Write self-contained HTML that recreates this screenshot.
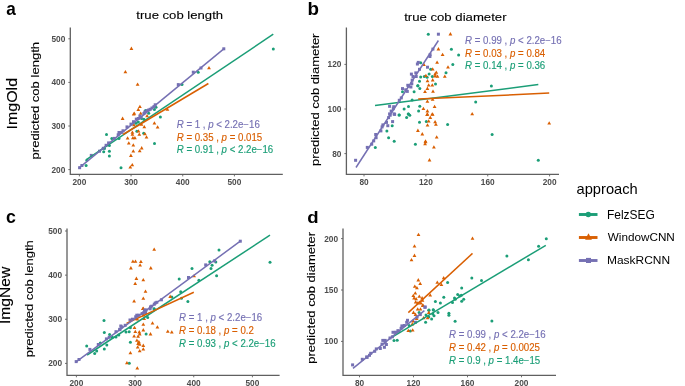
<!DOCTYPE html>
<html><head><meta charset="utf-8"><style>
html,body{margin:0;padding:0;background:#fff;width:685px;height:386px;overflow:hidden;}
svg{display:block;font-family:"Liberation Sans",sans-serif;will-change:transform;}
</style></head><body>
<svg width="685" height="386" viewBox="0 0 685 386">
<path d="M70.30 27.60V174.40H282.80" fill="none" stroke="#606060" stroke-width="1.3"/>
<path d="M68.30 169.60H70.30" stroke="#606060" stroke-width="0.9"/>
<text x="65.35" y="172.55" font-size="8.3" font-weight="bold" fill="#4D4D4D" text-anchor="end">200</text>
<path d="M68.30 126.00H70.30" stroke="#606060" stroke-width="0.9"/>
<text x="65.35" y="128.95" font-size="8.3" font-weight="bold" fill="#4D4D4D" text-anchor="end">300</text>
<path d="M68.30 82.40H70.30" stroke="#606060" stroke-width="0.9"/>
<text x="65.35" y="85.35" font-size="8.3" font-weight="bold" fill="#4D4D4D" text-anchor="end">400</text>
<path d="M68.30 38.80H70.30" stroke="#606060" stroke-width="0.9"/>
<text x="65.35" y="41.75" font-size="8.3" font-weight="bold" fill="#4D4D4D" text-anchor="end">500</text>
<path d="M79.40 174.40V176.40" stroke="#606060" stroke-width="0.9"/>
<text x="79.40" y="185.11" font-size="8.3" font-weight="bold" fill="#4D4D4D" text-anchor="middle">200</text>
<path d="M131.07 174.40V176.40" stroke="#606060" stroke-width="0.9"/>
<text x="131.07" y="185.11" font-size="8.3" font-weight="bold" fill="#4D4D4D" text-anchor="middle">300</text>
<path d="M182.74 174.40V176.40" stroke="#606060" stroke-width="0.9"/>
<text x="182.74" y="185.11" font-size="8.3" font-weight="bold" fill="#4D4D4D" text-anchor="middle">400</text>
<path d="M234.41 174.40V176.40" stroke="#606060" stroke-width="0.9"/>
<text x="234.41" y="185.11" font-size="8.3" font-weight="bold" fill="#4D4D4D" text-anchor="middle">500</text>
<path d="M346.40 27.60V174.40H559.00" fill="none" stroke="#606060" stroke-width="1.3"/>
<path d="M344.40 153.60H346.40" stroke="#606060" stroke-width="0.9"/>
<text x="341.45" y="156.55" font-size="8.3" font-weight="bold" fill="#4D4D4D" text-anchor="end">80</text>
<path d="M344.40 109.00H346.40" stroke="#606060" stroke-width="0.9"/>
<text x="341.45" y="111.95" font-size="8.3" font-weight="bold" fill="#4D4D4D" text-anchor="end">100</text>
<path d="M344.40 64.40H346.40" stroke="#606060" stroke-width="0.9"/>
<text x="341.45" y="67.35" font-size="8.3" font-weight="bold" fill="#4D4D4D" text-anchor="end">120</text>
<path d="M364.00 174.40V176.40" stroke="#606060" stroke-width="0.9"/>
<text x="364.00" y="185.11" font-size="8.3" font-weight="bold" fill="#4D4D4D" text-anchor="middle">80</text>
<path d="M425.87 174.40V176.40" stroke="#606060" stroke-width="0.9"/>
<text x="425.87" y="185.11" font-size="8.3" font-weight="bold" fill="#4D4D4D" text-anchor="middle">120</text>
<path d="M487.74 174.40V176.40" stroke="#606060" stroke-width="0.9"/>
<text x="487.74" y="185.11" font-size="8.3" font-weight="bold" fill="#4D4D4D" text-anchor="middle">160</text>
<path d="M549.60 174.40V176.40" stroke="#606060" stroke-width="0.9"/>
<text x="549.60" y="185.11" font-size="8.3" font-weight="bold" fill="#4D4D4D" text-anchor="middle">200</text>
<path d="M67.00 228.60V375.30H279.60" fill="none" stroke="#606060" stroke-width="1.3"/>
<path d="M65.00 363.40H67.00" stroke="#606060" stroke-width="0.9"/>
<text x="62.05" y="366.35" font-size="8.3" font-weight="bold" fill="#4D4D4D" text-anchor="end">200</text>
<path d="M65.00 319.27H67.00" stroke="#606060" stroke-width="0.9"/>
<text x="62.05" y="322.22" font-size="8.3" font-weight="bold" fill="#4D4D4D" text-anchor="end">300</text>
<path d="M65.00 275.14H67.00" stroke="#606060" stroke-width="0.9"/>
<text x="62.05" y="278.09" font-size="8.3" font-weight="bold" fill="#4D4D4D" text-anchor="end">400</text>
<path d="M65.00 231.01H67.00" stroke="#606060" stroke-width="0.9"/>
<text x="62.05" y="233.96" font-size="8.3" font-weight="bold" fill="#4D4D4D" text-anchor="end">500</text>
<path d="M76.40 375.30V377.30" stroke="#606060" stroke-width="0.9"/>
<text x="76.40" y="386.01" font-size="8.3" font-weight="bold" fill="#4D4D4D" text-anchor="middle">200</text>
<path d="M135.07 375.30V377.30" stroke="#606060" stroke-width="0.9"/>
<text x="135.07" y="386.01" font-size="8.3" font-weight="bold" fill="#4D4D4D" text-anchor="middle">300</text>
<path d="M193.74 375.30V377.30" stroke="#606060" stroke-width="0.9"/>
<text x="193.74" y="386.01" font-size="8.3" font-weight="bold" fill="#4D4D4D" text-anchor="middle">400</text>
<path d="M252.41 375.30V377.30" stroke="#606060" stroke-width="0.9"/>
<text x="252.41" y="386.01" font-size="8.3" font-weight="bold" fill="#4D4D4D" text-anchor="middle">500</text>
<path d="M343.00 228.60V375.30H556.00" fill="none" stroke="#606060" stroke-width="1.3"/>
<path d="M341.00 341.40H343.00" stroke="#606060" stroke-width="0.9"/>
<text x="338.05" y="344.35" font-size="8.3" font-weight="bold" fill="#4D4D4D" text-anchor="end">100</text>
<path d="M341.00 290.00H343.00" stroke="#606060" stroke-width="0.9"/>
<text x="338.05" y="292.95" font-size="8.3" font-weight="bold" fill="#4D4D4D" text-anchor="end">150</text>
<path d="M341.00 238.60H343.00" stroke="#606060" stroke-width="0.9"/>
<text x="338.05" y="241.55" font-size="8.3" font-weight="bold" fill="#4D4D4D" text-anchor="end">200</text>
<path d="M359.50 375.30V377.30" stroke="#606060" stroke-width="0.9"/>
<text x="359.50" y="386.01" font-size="8.3" font-weight="bold" fill="#4D4D4D" text-anchor="middle">80</text>
<path d="M413.50 375.30V377.30" stroke="#606060" stroke-width="0.9"/>
<text x="413.50" y="386.01" font-size="8.3" font-weight="bold" fill="#4D4D4D" text-anchor="middle">120</text>
<path d="M467.50 375.30V377.30" stroke="#606060" stroke-width="0.9"/>
<text x="467.50" y="386.01" font-size="8.3" font-weight="bold" fill="#4D4D4D" text-anchor="middle">160</text>
<path d="M521.50 375.30V377.30" stroke="#606060" stroke-width="0.9"/>
<text x="521.50" y="386.01" font-size="8.3" font-weight="bold" fill="#4D4D4D" text-anchor="middle">200</text>
<text font-size="1" font-weight="bold" fill="#000" transform="matrix(17.1698 0 0 19.2727 6.285 14.807)">a</text>
<text font-size="1" font-weight="bold" fill="#000" transform="matrix(18.8000 0 0 17.6712 307.384 14.800)">b</text>
<text font-size="1" font-weight="bold" fill="#000" transform="matrix(17.7551 0 0 18.9091 6.090 223.311)">c</text>
<text font-size="1" font-weight="bold" fill="#000" transform="matrix(18.6000 0 0 17.2603 307.356 223.100)">d</text>
<text font-size="1" font-weight="normal" fill="#000" stroke="#000" stroke-width="0.01" transform="matrix(13.1240 0 0 11.8085 136.338 18.720)">true cob length</text>
<text font-size="1" font-weight="normal" fill="#000" stroke="#000" stroke-width="0.01" transform="matrix(13.1783 0 0 11.6216 404.136 20.584)">true cob diameter</text>
<text font-size="1" font-weight="normal" fill="#000" stroke="#000" stroke-width="0.01" transform="matrix(0 -13.0552 11.4894 0 38.787 159.414)">predicted cob length</text>
<text font-size="1" font-weight="normal" fill="#000" stroke="#000" stroke-width="0.01" transform="matrix(0 -12.9876 11.8085 0 33.420 357.209)">predicted cob length</text>
<text font-size="1" font-weight="normal" fill="#000" stroke="#000" stroke-width="0.01" transform="matrix(0 -13.0327 11.4894 0 318.587 165.912)">predicted cob diameter</text>
<text font-size="1" font-weight="normal" fill="#000" stroke="#000" stroke-width="0.01" transform="matrix(0 -12.9633 11.5957 0 315.265 363.707)">predicted cob diameter</text>
<text font-size="1" font-weight="normal" fill="#000" stroke="#000" stroke-width="0.01" transform="matrix(0 -16.0261 13.8298 0 16.996 129.542)">ImgOld</text>
<text font-size="1" font-weight="normal" fill="#000" stroke="#000" stroke-width="0.01" transform="matrix(0 -15.6145 13.8333 0 10.395 324.105)">ImgNew</text>
<g fill="#1B9E77"><circle cx="86.1" cy="165.5" r="1.5"/><circle cx="86.9" cy="160.3" r="1.5"/><circle cx="103.7" cy="151.7" r="1.5"/><circle cx="104.5" cy="148.6" r="1.5"/><circle cx="109.4" cy="151.2" r="1.5"/><circle cx="109.4" cy="155.9" r="1.5"/><circle cx="109.4" cy="145.4" r="1.5"/><circle cx="106.5" cy="134.4" r="1.5"/><circle cx="111.8" cy="138.4" r="1.5"/><circle cx="119.0" cy="138.4" r="1.5"/><circle cx="121.0" cy="167.7" r="1.5"/><circle cx="136.9" cy="131.2" r="1.5"/><circle cx="143.7" cy="133.2" r="1.5"/><circle cx="154.5" cy="143.4" r="1.5"/><circle cx="135.9" cy="123.3" r="1.5"/><circle cx="138.3" cy="122.1" r="1.5"/><circle cx="141.5" cy="118.5" r="1.5"/><circle cx="143.9" cy="119.3" r="1.5"/><circle cx="145.5" cy="110.4" r="1.5"/><circle cx="148.7" cy="113.2" r="1.5"/><circle cx="154.4" cy="109.6" r="1.5"/><circle cx="156.0" cy="107.2" r="1.5"/><circle cx="160.4" cy="116.9" r="1.5"/><circle cx="198.2" cy="72.2" r="1.5"/><circle cx="182.0" cy="84.6" r="1.5"/><circle cx="273.3" cy="49.0" r="1.5"/></g>
<g fill="#D95F02"><path d="M131.40 46.62L133.30 49.92H129.50Z"/><path d="M125.40 70.02L127.30 73.32H123.50Z"/><path d="M137.60 82.42L139.50 85.72H135.70Z"/><path d="M139.90 104.82L141.80 108.12H138.00Z"/><path d="M138.30 107.62L140.20 110.92H136.40Z"/><path d="M133.70 112.22L135.60 115.52H131.80Z"/><path d="M134.30 111.42L136.20 114.72H132.40Z"/><path d="M140.70 111.52L142.60 114.82H138.80Z"/><path d="M122.60 116.62L124.50 119.92H120.70Z"/><path d="M147.10 114.02L149.00 117.32H145.20Z"/><path d="M167.40 107.52L169.30 110.82H165.50Z"/><path d="M154.40 121.32L156.30 124.62H152.50Z"/><path d="M157.60 125.32L159.50 128.62H155.70Z"/><path d="M144.30 124.92L146.20 128.22H142.40Z"/><path d="M141.50 122.52L143.40 125.82H139.60Z"/><path d="M133.90 122.92L135.80 126.22H132.00Z"/><path d="M132.40 130.42L134.30 133.72H130.50Z"/><path d="M132.40 132.42L134.30 135.72H130.50Z"/><path d="M138.50 129.22L140.40 132.52H136.60Z"/><path d="M139.30 132.42L141.20 135.72H137.40Z"/><path d="M144.90 132.02L146.80 135.32H143.00Z"/><path d="M146.50 135.22L148.40 138.52H144.60Z"/><path d="M127.60 136.32L129.50 139.62H125.70Z"/><path d="M132.90 136.02L134.80 139.32H131.00Z"/><path d="M134.90 136.02L136.80 139.32H133.00Z"/><path d="M128.80 141.32L130.70 144.62H126.90Z"/><path d="M133.30 143.32L135.20 146.62H131.40Z"/><path d="M141.70 146.12L143.60 149.42H139.80Z"/><path d="M139.70 148.92L141.60 152.22H137.80Z"/><path d="M133.30 149.32L135.20 152.62H131.40Z"/><path d="M130.90 153.62L132.80 156.92H129.00Z"/><path d="M132.30 162.92L134.20 166.22H130.40Z"/><path d="M130.30 165.32L132.20 168.62H128.40Z"/><path d="M209.00 66.02L210.90 69.32H207.10Z"/></g>
<g fill="#7570B3"><rect x="78.10" y="166.20" width="3.0" height="3.0"/><rect x="80.40" y="164.00" width="3.0" height="3.0"/><rect x="89.80" y="153.90" width="3.0" height="3.0"/><rect x="98.00" y="149.70" width="3.0" height="3.0"/><rect x="101.80" y="146.80" width="3.0" height="3.0"/><rect x="104.60" y="143.80" width="3.0" height="3.0"/><rect x="107.10" y="141.40" width="3.0" height="3.0"/><rect x="112.70" y="136.90" width="3.0" height="3.0"/><rect x="116.70" y="133.30" width="3.0" height="3.0"/><rect x="119.90" y="130.90" width="3.0" height="3.0"/><rect x="121.50" y="129.30" width="3.0" height="3.0"/><rect x="117.50" y="131.00" width="3.0" height="3.0"/><rect x="125.50" y="125.40" width="3.0" height="3.0"/><rect x="129.50" y="122.60" width="3.0" height="3.0"/><rect x="132.00" y="120.20" width="3.0" height="3.0"/><rect x="136.80" y="117.00" width="3.0" height="3.0"/><rect x="138.40" y="114.50" width="3.0" height="3.0"/><rect x="142.40" y="112.10" width="3.0" height="3.0"/><rect x="147.20" y="108.50" width="3.0" height="3.0"/><rect x="148.70" y="107.80" width="3.0" height="3.0"/><rect x="150.50" y="106.50" width="3.0" height="3.0"/><rect x="153.70" y="103.30" width="3.0" height="3.0"/><rect x="134.80" y="117.60" width="3.0" height="3.0"/><rect x="139.50" y="115.70" width="3.0" height="3.0"/><rect x="143.30" y="110.50" width="3.0" height="3.0"/><rect x="145.70" y="109.10" width="3.0" height="3.0"/><rect x="152.50" y="105.10" width="3.0" height="3.0"/><rect x="176.80" y="83.10" width="3.0" height="3.0"/><rect x="191.80" y="70.70" width="3.0" height="3.0"/><rect x="199.50" y="66.50" width="3.0" height="3.0"/><rect x="222.30" y="47.30" width="3.0" height="3.0"/></g>
<path d="M86.00 159.90L273.30 34.20" stroke="#1B9E77" stroke-width="1.5" fill="none"/>
<path d="M123.00 134.50L208.40 83.50" stroke="#D95F02" stroke-width="1.5" fill="none"/>
<path d="M79.20 167.90L223.80 48.80" stroke="#7570B3" stroke-width="1.5" fill="none"/>
<g fill="#1B9E77"><circle cx="428.3" cy="34.2" r="1.5"/><circle cx="451.4" cy="49.3" r="1.5"/><circle cx="458.6" cy="55.0" r="1.5"/><circle cx="420.7" cy="62.8" r="1.5"/><circle cx="430.7" cy="69.3" r="1.5"/><circle cx="429.1" cy="74.1" r="1.5"/><circle cx="420.7" cy="76.9" r="1.5"/><circle cx="424.3" cy="76.5" r="1.5"/><circle cx="427.1" cy="77.3" r="1.5"/><circle cx="432.3" cy="76.5" r="1.5"/><circle cx="419.5" cy="81.3" r="1.5"/><circle cx="435.5" cy="84.1" r="1.5"/><circle cx="417.9" cy="85.7" r="1.5"/><circle cx="452.8" cy="64.4" r="1.5"/><circle cx="446.0" cy="72.7" r="1.5"/><circle cx="402.5" cy="91.8" r="1.5"/><circle cx="414.1" cy="91.8" r="1.5"/><circle cx="417.8" cy="85.8" r="1.5"/><circle cx="419.8" cy="88.6" r="1.5"/><circle cx="412.1" cy="99.9" r="1.5"/><circle cx="408.5" cy="106.5" r="1.5"/><circle cx="404.1" cy="109.1" r="1.5"/><circle cx="419.8" cy="106.3" r="1.5"/><circle cx="418.6" cy="111.1" r="1.5"/><circle cx="399.3" cy="114.9" r="1.5"/><circle cx="408.5" cy="113.9" r="1.5"/><circle cx="399.0" cy="115.1" r="1.5"/><circle cx="392.2" cy="125.8" r="1.5"/><circle cx="386.9" cy="130.9" r="1.5"/><circle cx="388.6" cy="137.7" r="1.5"/><circle cx="394.2" cy="141.3" r="1.5"/><circle cx="408.2" cy="114.0" r="1.5"/><circle cx="409.8" cy="115.2" r="1.5"/><circle cx="406.6" cy="117.6" r="1.5"/><circle cx="419.5" cy="122.3" r="1.5"/><circle cx="426.3" cy="121.5" r="1.5"/><circle cx="447.6" cy="124.4" r="1.5"/><circle cx="375.3" cy="147.4" r="1.5"/><circle cx="415.4" cy="144.2" r="1.5"/><circle cx="491.4" cy="85.9" r="1.5"/><circle cx="475.7" cy="102.0" r="1.5"/><circle cx="492.1" cy="134.4" r="1.5"/><circle cx="538.3" cy="160.3" r="1.5"/></g>
<g fill="#D95F02"><path d="M450.40 32.12L452.30 35.42H448.50Z"/><path d="M438.40 47.12L440.30 50.42H436.50Z"/><path d="M442.60 52.72L444.50 56.02H440.70Z"/><path d="M437.10 60.42L439.00 63.72H435.20Z"/><path d="M423.90 62.82L425.80 66.12H422.00Z"/><path d="M432.70 67.32L434.60 70.62H430.80Z"/><path d="M448.00 65.22L449.90 68.52H446.10Z"/><path d="M436.30 70.52L438.20 73.82H434.40Z"/><path d="M435.10 72.12L437.00 75.42H433.20Z"/><path d="M425.90 73.72L427.80 77.02H424.00Z"/><path d="M437.50 74.52L439.40 77.82H435.60Z"/><path d="M435.10 74.12L437.00 77.42H433.20Z"/><path d="M444.80 74.52L446.70 77.82H442.90Z"/><path d="M427.50 78.92L429.40 82.22H425.60Z"/><path d="M432.70 78.12L434.60 81.42H430.80Z"/><path d="M428.70 83.32L430.60 86.62H426.80Z"/><path d="M432.30 83.32L434.20 86.62H430.40Z"/><path d="M427.40 86.62L429.30 89.92H425.50Z"/><path d="M425.00 89.82L426.90 93.12H423.10Z"/><path d="M433.00 89.42L434.90 92.72H431.10Z"/><path d="M427.40 99.52L429.30 102.82H425.50Z"/><path d="M432.60 97.52L434.50 100.82H430.70Z"/><path d="M423.40 106.72L425.30 110.02H421.50Z"/><path d="M427.40 109.12L429.30 112.42H425.50Z"/><path d="M427.40 112.32L429.30 115.62H425.50Z"/><path d="M432.20 112.32L434.10 115.62H430.30Z"/><path d="M434.60 104.72L436.50 108.02H432.70Z"/><path d="M427.10 112.82L429.00 116.12H425.20Z"/><path d="M432.70 112.42L434.60 115.72H430.80Z"/><path d="M430.30 115.62L432.20 118.92H428.40Z"/><path d="M428.70 119.22L430.60 122.52H426.80Z"/><path d="M435.10 120.02L437.00 123.32H433.20Z"/><path d="M435.90 122.42L437.80 125.72H434.00Z"/><path d="M427.50 123.32L429.40 126.62H425.60Z"/><path d="M417.90 128.62L419.80 131.92H416.00Z"/><path d="M422.30 132.12L424.20 135.42H420.40Z"/><path d="M436.70 135.32L438.60 138.62H434.80Z"/><path d="M425.50 139.32L427.40 142.62H423.60Z"/><path d="M425.50 140.02L427.40 143.32H423.60Z"/><path d="M425.10 142.02L427.00 145.32H423.20Z"/><path d="M433.90 145.22L435.80 148.52H432.00Z"/><path d="M429.50 158.12L431.40 161.42H427.60Z"/><path d="M472.20 111.92L474.10 115.22H470.30Z"/><path d="M549.20 121.22L551.10 124.52H547.30Z"/></g>
<g fill="#7570B3"><rect x="436.90" y="32.70" width="3.0" height="3.0"/><rect x="431.40" y="47.60" width="3.0" height="3.0"/><rect x="428.60" y="53.20" width="3.0" height="3.0"/><rect x="428.40" y="55.00" width="3.0" height="3.0"/><rect x="416.80" y="60.90" width="3.0" height="3.0"/><rect x="415.90" y="62.50" width="3.0" height="3.0"/><rect x="426.00" y="65.70" width="3.0" height="3.0"/><rect x="418.00" y="67.80" width="3.0" height="3.0"/><rect x="414.30" y="71.40" width="3.0" height="3.0"/><rect x="409.90" y="72.60" width="3.0" height="3.0"/><rect x="411.50" y="75.00" width="3.0" height="3.0"/><rect x="414.70" y="75.00" width="3.0" height="3.0"/><rect x="410.70" y="78.60" width="3.0" height="3.0"/><rect x="410.30" y="82.20" width="3.0" height="3.0"/><rect x="406.30" y="83.80" width="3.0" height="3.0"/><rect x="407.00" y="84.70" width="3.0" height="3.0"/><rect x="409.40" y="85.50" width="3.0" height="3.0"/><rect x="401.00" y="87.10" width="3.0" height="3.0"/><rect x="404.20" y="88.30" width="3.0" height="3.0"/><rect x="405.80" y="89.90" width="3.0" height="3.0"/><rect x="399.80" y="96.40" width="3.0" height="3.0"/><rect x="397.80" y="98.80" width="3.0" height="3.0"/><rect x="388.10" y="104.80" width="3.0" height="3.0"/><rect x="392.20" y="105.20" width="3.0" height="3.0"/><rect x="391.80" y="107.20" width="3.0" height="3.0"/><rect x="389.70" y="109.60" width="3.0" height="3.0"/><rect x="388.10" y="112.40" width="3.0" height="3.0"/><rect x="392.60" y="112.40" width="3.0" height="3.0"/><rect x="393.10" y="112.90" width="3.0" height="3.0"/><rect x="388.70" y="113.70" width="3.0" height="3.0"/><rect x="387.10" y="116.10" width="3.0" height="3.0"/><rect x="391.10" y="120.10" width="3.0" height="3.0"/><rect x="385.00" y="120.90" width="3.0" height="3.0"/><rect x="386.30" y="124.20" width="3.0" height="3.0"/><rect x="381.40" y="123.40" width="3.0" height="3.0"/><rect x="380.60" y="125.40" width="3.0" height="3.0"/><rect x="379.40" y="129.40" width="3.0" height="3.0"/><rect x="374.20" y="133.00" width="3.0" height="3.0"/><rect x="374.60" y="136.20" width="3.0" height="3.0"/><rect x="372.20" y="139.40" width="3.0" height="3.0"/><rect x="370.20" y="142.70" width="3.0" height="3.0"/><rect x="365.80" y="145.90" width="3.0" height="3.0"/><rect x="354.10" y="158.80" width="3.0" height="3.0"/></g>
<path d="M375.00 105.40L538.30 84.60" stroke="#1B9E77" stroke-width="1.5" fill="none"/>
<path d="M418.20 99.10L549.20 93.10" stroke="#D95F02" stroke-width="1.5" fill="none"/>
<path d="M356.00 167.50L438.40 40.50" stroke="#7570B3" stroke-width="1.5" fill="none"/>
<g fill="#1B9E77"><circle cx="171.8" cy="296.9" r="1.5"/><circle cx="154.1" cy="308.9" r="1.5"/><circle cx="147.7" cy="317.6" r="1.5"/><circle cx="130.4" cy="327.7" r="1.5"/><circle cx="126.0" cy="332.1" r="1.5"/><circle cx="129.2" cy="331.7" r="1.5"/><circle cx="146.1" cy="334.1" r="1.5"/><circle cx="118.8" cy="334.9" r="1.5"/><circle cx="154.1" cy="308.8" r="1.5"/><circle cx="104.0" cy="320.4" r="1.5"/><circle cx="104.3" cy="332.5" r="1.5"/><circle cx="109.6" cy="334.5" r="1.5"/><circle cx="86.7" cy="346.0" r="1.5"/><circle cx="106.8" cy="344.9" r="1.5"/><circle cx="104.3" cy="349.0" r="1.5"/><circle cx="100.3" cy="342.9" r="1.5"/><circle cx="112.4" cy="337.3" r="1.5"/><circle cx="116.0" cy="336.9" r="1.5"/><circle cx="96.7" cy="351.0" r="1.5"/><circle cx="94.7" cy="353.4" r="1.5"/><circle cx="130.4" cy="342.3" r="1.5"/><circle cx="129.3" cy="363.2" r="1.5"/><circle cx="219.0" cy="250.0" r="1.5"/><circle cx="209.8" cy="261.7" r="1.5"/><circle cx="215.8" cy="262.0" r="1.5"/><circle cx="212.1" cy="265.3" r="1.5"/><circle cx="211.0" cy="268.5" r="1.5"/><circle cx="192.0" cy="268.5" r="1.5"/><circle cx="179.2" cy="279.1" r="1.5"/><circle cx="198.9" cy="280.2" r="1.5"/><circle cx="216.6" cy="275.7" r="1.5"/><circle cx="270.0" cy="262.2" r="1.5"/><circle cx="180.7" cy="291.8" r="1.5"/><circle cx="181.5" cy="298.3" r="1.5"/><circle cx="187.9" cy="301.5" r="1.5"/></g>
<g fill="#D95F02"><path d="M154.20 247.42L156.10 250.72H152.30Z"/><path d="M132.90 259.42L134.80 262.72H131.00Z"/><path d="M135.50 259.42L137.40 262.72H133.60Z"/><path d="M140.90 259.72L142.80 263.02H139.00Z"/><path d="M140.10 263.32L142.00 266.62H138.20Z"/><path d="M130.90 266.12L132.80 269.42H129.00Z"/><path d="M150.80 266.12L152.70 269.42H148.90Z"/><path d="M136.40 276.62L138.30 279.92H134.50Z"/><path d="M143.30 277.92L145.20 281.22H141.40Z"/><path d="M135.20 281.82L137.10 285.12H133.30Z"/><path d="M145.50 289.52L147.40 292.82H143.60Z"/><path d="M143.30 296.52L145.20 299.82H141.40Z"/><path d="M134.10 299.32L136.00 302.62H132.20Z"/><path d="M143.30 306.52L145.20 309.82H141.40Z"/><path d="M170.20 294.62L172.10 297.92H168.30Z"/><path d="M142.90 306.82L144.80 310.12H141.00Z"/><path d="M143.70 313.22L145.60 316.52H141.80Z"/><path d="M137.30 317.22L139.20 320.52H135.40Z"/><path d="M144.10 316.82L146.00 320.12H142.20Z"/><path d="M143.30 322.52L145.20 325.82H141.40Z"/><path d="M152.50 321.32L154.40 324.62H150.60Z"/><path d="M157.40 325.32L159.30 328.62H155.50Z"/><path d="M134.50 325.72L136.40 329.02H132.60Z"/><path d="M143.30 328.12L145.20 331.42H141.40Z"/><path d="M135.30 329.72L137.20 333.02H133.40Z"/><path d="M139.30 330.12L141.20 333.42H137.40Z"/><path d="M139.70 332.12L141.60 335.42H137.80Z"/><path d="M150.50 332.12L152.40 335.42H148.60Z"/><path d="M134.10 334.22L136.00 337.52H132.20Z"/><path d="M138.10 334.52L140.00 337.82H136.20Z"/><path d="M167.80 329.42L169.70 332.72H165.90Z"/><path d="M171.80 330.22L173.70 333.52H169.90Z"/><path d="M136.90 338.42L138.80 341.72H135.00Z"/><path d="M138.90 340.02L140.80 343.32H137.00Z"/><path d="M138.10 341.62L140.00 344.92H136.20Z"/><path d="M139.70 342.42L141.60 345.72H137.80Z"/><path d="M143.30 343.62L145.20 346.92H141.40Z"/><path d="M137.70 345.22L139.60 348.52H135.80Z"/><path d="M143.30 347.32L145.20 350.62H141.40Z"/><path d="M139.70 348.92L141.60 352.22H137.80Z"/><path d="M130.40 350.92L132.30 354.22H128.50Z"/><path d="M126.90 361.02L128.80 364.32H125.00Z"/><path d="M137.30 366.32L139.20 369.62H135.40Z"/><path d="M194.10 273.92L196.00 277.22H192.20Z"/></g>
<g fill="#7570B3"><rect x="238.80" y="239.70" width="3.0" height="3.0"/><rect x="213.10" y="259.40" width="3.0" height="3.0"/><rect x="204.20" y="263.40" width="3.0" height="3.0"/><rect x="187.00" y="276.00" width="3.0" height="3.0"/><rect x="159.90" y="298.30" width="3.0" height="3.0"/><rect x="153.80" y="301.50" width="3.0" height="3.0"/><rect x="149.00" y="305.40" width="3.0" height="3.0"/><rect x="143.40" y="308.60" width="3.0" height="3.0"/><rect x="118.10" y="328.20" width="3.0" height="3.0"/><rect x="120.10" y="325.40" width="3.0" height="3.0"/><rect x="123.70" y="323.80" width="3.0" height="3.0"/><rect x="128.50" y="318.50" width="3.0" height="3.0"/><rect x="131.00" y="317.70" width="3.0" height="3.0"/><rect x="134.20" y="315.30" width="3.0" height="3.0"/><rect x="137.40" y="313.70" width="3.0" height="3.0"/><rect x="140.60" y="312.10" width="3.0" height="3.0"/><rect x="143.00" y="309.70" width="3.0" height="3.0"/><rect x="144.60" y="308.50" width="3.0" height="3.0"/><rect x="148.60" y="307.30" width="3.0" height="3.0"/><rect x="142.40" y="311.00" width="3.0" height="3.0"/><rect x="144.00" y="311.10" width="3.0" height="3.0"/><rect x="150.20" y="304.70" width="3.0" height="3.0"/><rect x="155.30" y="300.80" width="3.0" height="3.0"/><rect x="152.80" y="302.70" width="3.0" height="3.0"/><rect x="135.30" y="313.70" width="3.0" height="3.0"/><rect x="119.30" y="324.50" width="3.0" height="3.0"/><rect x="118.50" y="327.70" width="3.0" height="3.0"/><rect x="114.50" y="330.20" width="3.0" height="3.0"/><rect x="107.70" y="335.80" width="3.0" height="3.0"/><rect x="104.90" y="337.40" width="3.0" height="3.0"/><rect x="96.80" y="343.00" width="3.0" height="3.0"/><rect x="88.40" y="347.90" width="3.0" height="3.0"/><rect x="77.50" y="358.00" width="3.0" height="3.0"/><rect x="74.70" y="360.10" width="3.0" height="3.0"/></g>
<path d="M87.10 355.00L270.00 235.20" stroke="#1B9E77" stroke-width="1.5" fill="none"/>
<path d="M126.50 323.40L193.80 292.20" stroke="#D95F02" stroke-width="1.5" fill="none"/>
<path d="M75.40 362.30L240.30 241.20" stroke="#7570B3" stroke-width="1.5" fill="none"/>
<g fill="#1B9E77"><circle cx="443.8" cy="297.3" r="1.5"/><circle cx="435.4" cy="301.5" r="1.5"/><circle cx="440.4" cy="302.9" r="1.5"/><circle cx="429.0" cy="310.1" r="1.5"/><circle cx="433.4" cy="310.1" r="1.5"/><circle cx="546.3" cy="238.7" r="1.5"/><circle cx="538.6" cy="246.3" r="1.5"/><circle cx="506.9" cy="255.9" r="1.5"/><circle cx="528.4" cy="259.8" r="1.5"/><circle cx="471.8" cy="278.0" r="1.5"/><circle cx="481.5" cy="280.5" r="1.5"/><circle cx="447.6" cy="282.5" r="1.5"/><circle cx="461.7" cy="288.1" r="1.5"/><circle cx="428.8" cy="310.2" r="1.5"/><circle cx="433.2" cy="309.8" r="1.5"/><circle cx="438.0" cy="312.6" r="1.5"/><circle cx="426.0" cy="315.0" r="1.5"/><circle cx="428.8" cy="317.0" r="1.5"/><circle cx="431.6" cy="319.1" r="1.5"/><circle cx="425.6" cy="322.3" r="1.5"/><circle cx="409.1" cy="325.5" r="1.5"/><circle cx="410.3" cy="331.1" r="1.5"/><circle cx="419.1" cy="312.6" r="1.5"/><circle cx="434.0" cy="315.8" r="1.5"/><circle cx="394.0" cy="340.4" r="1.5"/><circle cx="397.2" cy="340.3" r="1.5"/><circle cx="452.5" cy="302.5" r="1.5"/><circle cx="454.5" cy="298.0" r="1.5"/><circle cx="455.3" cy="299.3" r="1.5"/><circle cx="457.7" cy="294.4" r="1.5"/><circle cx="459.7" cy="296.0" r="1.5"/><circle cx="461.3" cy="295.2" r="1.5"/><circle cx="463.7" cy="299.3" r="1.5"/><circle cx="461.7" cy="301.3" r="1.5"/><circle cx="448.9" cy="313.3" r="1.5"/><circle cx="448.9" cy="315.3" r="1.5"/><circle cx="432.8" cy="314.1" r="1.5"/><circle cx="455.1" cy="321.3" r="1.5"/><circle cx="491.9" cy="321.1" r="1.5"/></g>
<g fill="#D95F02"><path d="M418.50 232.72L420.40 236.02H416.60Z"/><path d="M414.50 244.32L416.40 247.62H412.60Z"/><path d="M414.50 253.62L416.40 256.92H412.60Z"/><path d="M411.50 257.92L413.40 261.22H409.60Z"/><path d="M418.30 278.12L420.20 281.42H416.40Z"/><path d="M420.20 281.72L422.10 285.02H418.30Z"/><path d="M414.80 284.52L416.70 287.82H412.90Z"/><path d="M437.30 280.52L439.20 283.82H435.40Z"/><path d="M416.90 286.02L418.80 289.32H415.00Z"/><path d="M415.30 291.32L417.20 294.62H413.40Z"/><path d="M413.30 293.72L415.20 297.02H411.40Z"/><path d="M414.10 296.12L416.00 299.42H412.20Z"/><path d="M416.10 296.92L418.00 300.22H414.20Z"/><path d="M419.30 294.52L421.20 297.82H417.40Z"/><path d="M422.10 296.12L424.00 299.42H420.20Z"/><path d="M422.50 298.52L424.40 301.82H420.60Z"/><path d="M419.30 300.52L421.20 303.82H417.40Z"/><path d="M415.70 300.12L417.60 303.42H413.80Z"/><path d="M417.70 301.32L419.60 304.62H415.80Z"/><path d="M420.90 301.32L422.80 304.62H419.00Z"/><path d="M422.90 303.32L424.80 306.62H421.00Z"/><path d="M430.20 293.32L432.10 296.62H428.30Z"/><path d="M441.40 282.82L443.30 286.12H439.50Z"/><path d="M417.70 307.32L419.60 310.62H415.80Z"/><path d="M420.50 307.32L422.40 310.62H418.60Z"/><path d="M472.50 236.52L474.40 239.82H470.60Z"/><path d="M443.70 276.02L445.60 279.32H441.80Z"/><path d="M422.80 303.82L424.70 307.12H420.90Z"/><path d="M413.50 310.62L415.40 313.92H411.60Z"/><path d="M415.50 312.62L417.40 315.92H413.60Z"/><path d="M416.70 316.72L418.60 320.02H414.80Z"/><path d="M413.10 319.12L415.00 322.42H411.20Z"/><path d="M412.30 322.32L414.20 325.62H410.40Z"/><path d="M408.30 328.72L410.20 332.02H406.40Z"/><path d="M412.70 328.32L414.60 331.62H410.80Z"/><path d="M428.80 310.62L430.70 313.92H426.90Z"/><path d="M423.60 315.92L425.50 319.22H421.70Z"/><path d="M427.60 315.92L429.50 319.22H425.70Z"/></g>
<g fill="#7570B3"><rect x="423.40" y="305.80" width="3.0" height="3.0"/><rect x="423.70" y="305.50" width="3.0" height="3.0"/><rect x="418.80" y="313.10" width="3.0" height="3.0"/><rect x="415.60" y="315.50" width="3.0" height="3.0"/><rect x="414.00" y="320.80" width="3.0" height="3.0"/><rect x="406.00" y="318.80" width="3.0" height="3.0"/><rect x="405.20" y="320.80" width="3.0" height="3.0"/><rect x="402.80" y="324.00" width="3.0" height="3.0"/><rect x="400.40" y="324.40" width="3.0" height="3.0"/><rect x="399.60" y="326.80" width="3.0" height="3.0"/><rect x="396.40" y="329.20" width="3.0" height="3.0"/><rect x="391.50" y="330.80" width="3.0" height="3.0"/><rect x="393.90" y="330.80" width="3.0" height="3.0"/><rect x="394.90" y="330.90" width="3.0" height="3.0"/><rect x="397.30" y="329.70" width="3.0" height="3.0"/><rect x="388.50" y="336.50" width="3.0" height="3.0"/><rect x="390.90" y="335.30" width="3.0" height="3.0"/><rect x="381.30" y="338.90" width="3.0" height="3.0"/><rect x="383.70" y="338.90" width="3.0" height="3.0"/><rect x="383.70" y="341.40" width="3.0" height="3.0"/><rect x="380.50" y="342.60" width="3.0" height="3.0"/><rect x="384.90" y="343.00" width="3.0" height="3.0"/><rect x="382.90" y="345.80" width="3.0" height="3.0"/><rect x="378.80" y="347.00" width="3.0" height="3.0"/><rect x="374.80" y="347.40" width="3.0" height="3.0"/><rect x="373.20" y="349.80" width="3.0" height="3.0"/><rect x="369.20" y="351.80" width="3.0" height="3.0"/><rect x="368.00" y="353.80" width="3.0" height="3.0"/><rect x="365.20" y="355.40" width="3.0" height="3.0"/><rect x="360.80" y="357.80" width="3.0" height="3.0"/><rect x="351.10" y="363.40" width="3.0" height="3.0"/><rect x="365.60" y="355.90" width="3.0" height="3.0"/></g>
<path d="M393.00 336.60L545.80 245.30" stroke="#1B9E77" stroke-width="1.5" fill="none"/>
<path d="M408.30 312.60L472.50 253.40" stroke="#D95F02" stroke-width="1.5" fill="none"/>
<path d="M353.00 368.30L424.40 310.60" stroke="#7570B3" stroke-width="1.5" fill="none"/>
<text font-size="1" fill="#7570B3" stroke="#7570B3" stroke-width="0.015" transform="matrix(9.6800 0 0 10.0000 176.710 127.700)"><tspan font-style="italic">R</tspan> = 1 , <tspan font-style="italic">p</tspan> &lt; 2.2e−16</text>
<text font-size="1" fill="#D95F02" stroke="#D95F02" stroke-width="0.015" transform="matrix(9.6800 0 0 10.0000 176.710 140.600)"><tspan font-style="italic">R</tspan> = 0.35 , <tspan font-style="italic">p</tspan> = 0.015</text>
<text font-size="1" fill="#1B9E77" stroke="#1B9E77" stroke-width="0.015" transform="matrix(9.6800 0 0 10.0000 176.710 153.300)"><tspan font-style="italic">R</tspan> = 0.91 , <tspan font-style="italic">p</tspan> &lt; 2.2e−16</text>
<text font-size="1" fill="#7570B3" stroke="#7570B3" stroke-width="0.015" transform="matrix(9.6800 0 0 10.0000 465.110 44.200)"><tspan font-style="italic">R</tspan> = 0.99 , <tspan font-style="italic">p</tspan> &lt; 2.2e−16</text>
<text font-size="1" fill="#D95F02" stroke="#D95F02" stroke-width="0.015" transform="matrix(9.6800 0 0 10.0000 465.110 56.800)"><tspan font-style="italic">R</tspan> = 0.03 , <tspan font-style="italic">p</tspan> = 0.84</text>
<text font-size="1" fill="#1B9E77" stroke="#1B9E77" stroke-width="0.015" transform="matrix(9.6800 0 0 10.0000 465.110 69.200)"><tspan font-style="italic">R</tspan> = 0.14 , <tspan font-style="italic">p</tspan> = 0.36</text>
<text font-size="1" fill="#7570B3" stroke="#7570B3" stroke-width="0.015" transform="matrix(9.6800 0 0 10.0000 179.110 321.100)"><tspan font-style="italic">R</tspan> = 1 , <tspan font-style="italic">p</tspan> &lt; 2.2e−16</text>
<text font-size="1" fill="#D95F02" stroke="#D95F02" stroke-width="0.015" transform="matrix(9.6800 0 0 10.0000 179.110 333.800)"><tspan font-style="italic">R</tspan> = 0.18 , <tspan font-style="italic">p</tspan> = 0.2</text>
<text font-size="1" fill="#1B9E77" stroke="#1B9E77" stroke-width="0.015" transform="matrix(9.6800 0 0 10.0000 179.110 346.500)"><tspan font-style="italic">R</tspan> = 0.93 , <tspan font-style="italic">p</tspan> &lt; 2.2e−16</text>
<text font-size="1" fill="#7570B3" stroke="#7570B3" stroke-width="0.015" transform="matrix(9.6800 0 0 10.0000 449.110 338.100)"><tspan font-style="italic">R</tspan> = 0.99 , <tspan font-style="italic">p</tspan> &lt; 2.2e−16</text>
<text font-size="1" fill="#D95F02" stroke="#D95F02" stroke-width="0.015" transform="matrix(9.6800 0 0 10.0000 449.110 350.800)"><tspan font-style="italic">R</tspan> = 0.42 , <tspan font-style="italic">p</tspan> = 0.0025</text>
<text font-size="1" fill="#1B9E77" stroke="#1B9E77" stroke-width="0.015" transform="matrix(9.6800 0 0 10.0000 449.110 363.500)"><tspan font-style="italic">R</tspan> = 0.9 , <tspan font-style="italic">p</tspan> = 1.4e−15</text>
<text font-size="1" font-weight="normal" fill="#000" transform="matrix(14.6929 0 0 15.2128 576.512 193.705)">approach</text>
<text font-size="1" font-weight="normal" fill="#000" transform="matrix(11.9740 0 0 11.8919 606.942 218.781)">FelzSEG</text>
<text font-size="1" font-weight="normal" fill="#000" transform="matrix(11.7229 0 0 10.6757 607.783 241.093)">WindowCNN</text>
<text font-size="1" font-weight="normal" fill="#000" transform="matrix(11.9727 0 0 11.4865 606.942 263.685)">MaskRCNN</text>
<path d="M578.9 214.5H597.5" stroke="#1B9E77" stroke-width="2.9"/><circle cx="588.3" cy="214.5" r="2.7" fill="#1B9E77"/>
<path d="M578.9 237.5H597.5" stroke="#D95F02" stroke-width="2.9"/><path d="M588.5 233.2L591.9 239.8H585.1Z" fill="#D95F02"/>
<path d="M578.9 260.5H597.5" stroke="#7570B3" stroke-width="2.9"/><rect x="586" y="257.9" width="5" height="5.1" fill="#7570B3"/>
</svg></body></html>
